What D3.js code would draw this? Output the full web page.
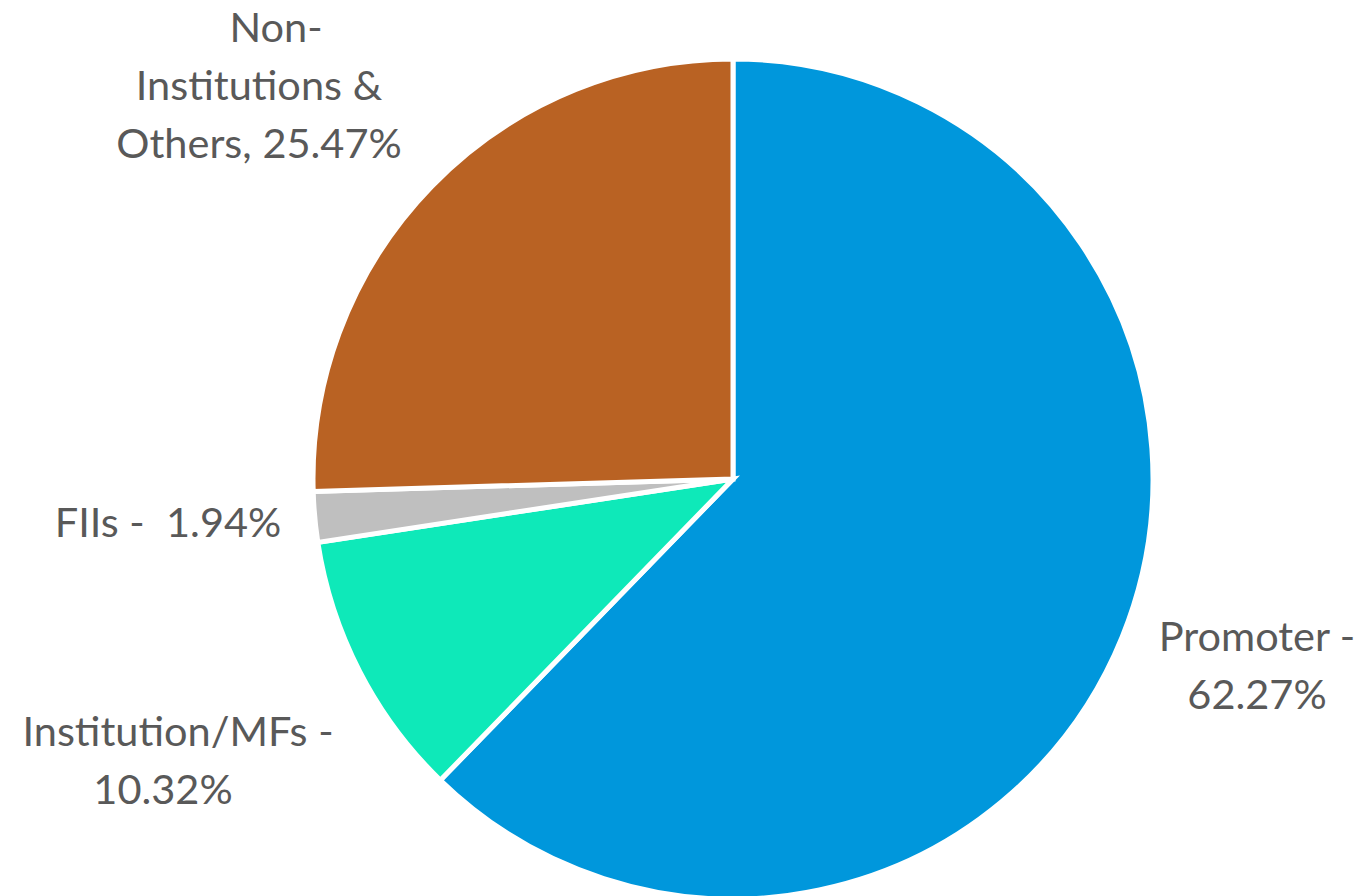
<!DOCTYPE html>
<html>
<head>
<meta charset="utf-8">
<script src="https://cdn.jsdelivr.net/npm/d3@7"></script>
<style>
  html, body { margin: 0; padding: 0; background: #fff; }
  svg { display: block; }
  text { white-space: pre; }
</style>
</head>
<body>
<div id="chart"></div>
<script>
// shareholding pattern, clockwise from 12 o'clock
const categories = ["Promoter", "Institution/MFs", "FIIs", "Non-Institutions & Others"];
const shares = [62.27, 10.32, 1.94, 25.47];
const colors = ["#0097dc", "#0ee9b9", "#bfbfbf", "#b96223"];
// label text as it wraps in the original
const labelLines = [
    ["Promoter -", "62.27%"],
    ["Institution/MFs -", "10.32%"],
    ["FIIs -  1.94%"],
    ["Non-", "Institutions &", "Others, 25.47%"]
];

const width = 1365;
const height = 896;
const cx = 733, cy = 479, radius = 420;
const lineHeight = 58;

// where each label block sits (centre x, first baseline y) and small per-line nudges
const labelPos = [
    { x: 1257, y: 651, dx: [0, 0] },
    { x: 170, y: 746, dx: [8, -7] },
    { x: 168, y: 537, dx: [0] },
    { x: 259, y: 42, dx: [17, 0, 0] }
];

const data = categories.map((name, i) => ({ name, value: shares[i], color: colors[i], lines: labelLines[i], pos: labelPos[i] }));

const pie = d3.pie().sort(null).value(d => d.value);
const arc = d3.arc().innerRadius(0).outerRadius(radius);

const svg = d3.create("svg")
    .attr("width", width)
    .attr("height", height)
    .attr("viewBox", [0, 0, width, height]);

svg.append("g")
    .attr("transform", `translate(${cx},${cy})`)
    .attr("stroke", "#fff")
    .attr("stroke-width", 5)
    .attr("stroke-linejoin", "miter")
    .selectAll()
    .data(pie(data))
    .join("path")
    .attr("fill", d => d.data.color)
    .attr("d", arc);

const label = svg.append("g")
    .attr("font-family", "Lato, 'Open Sans', sans-serif")
    .attr("font-size", 41.5)
    .attr("fill", "#595959")
    .attr("text-anchor", "middle")
    .selectAll()
    .data(data)
    .join("text")
    .attr("transform", d => `translate(${d.pos.x},${d.pos.y})`);

label.selectAll("tspan")
    .data(d => d.lines.map((t, i) => ({ t, dx: d.pos.dx[i] })))
    .join("tspan")
    .attr("x", d => d.dx)
    .attr("y", (d, i) => i * lineHeight)
    .text(d => d.t);

d3.select("#chart").append(() => svg.node());
</script>
</body>
</html>
